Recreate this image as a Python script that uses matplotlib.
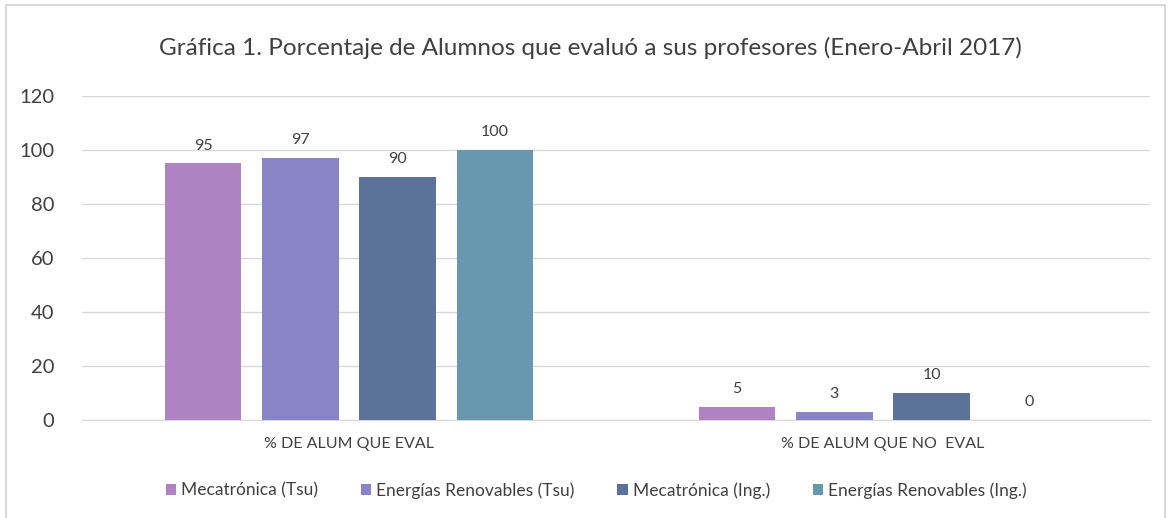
import matplotlib.pyplot as plt
import numpy as np
from matplotlib.patches import Rectangle

plt.rcParams['font.family'] = ['Lato', 'DejaVu Sans']

categories = ['% DE ALUM QUE EVAL', '% DE ALUM QUE NO  EVAL']
series = ['Mecatrónica (Tsu)', 'Energías Renovables (Tsu)',
          'Mecatrónica (Ing.)', 'Energías Renovables (Ing.)']
values = [[95, 5], [97, 3], [90, 10], [100, 0]]
colors = ['#AF82C4', '#8884C6', '#5D7299', '#6798B0']

fig = plt.figure(figsize=(11.69, 5.18), dpi=100)
ax = fig.add_axes([0.0701, 0.189, 0.9136, 0.626])

x = np.arange(len(categories))
width = 0.143
step = 0.182
for i, (name, vals) in enumerate(zip(series, values)):
    pos = x + (i - 1.5) * step
    bars = ax.bar(pos, vals, width, color=colors[i], label=name, zorder=3)
    for b, v in zip(bars, vals):
        ax.text(b.get_x() + b.get_width() / 2, v + 4, str(v),
                ha='center', va='bottom', fontsize=11.5, color='#404040')

ax.set_xlim(-0.5, 1.5)
ax.set_ylim(0, 120)
ax.set_yticks(np.arange(0, 121, 20))
ax.set_xticks(x)
ax.set_xticklabels(categories, fontsize=11.5, color='#404040')
ax.tick_params(axis='y', labelsize=14.5, colors='#404040', length=0, pad=20)
ax.tick_params(axis='x', length=0, pad=12)
ax.grid(axis='y', color='#D9D9D9', linewidth=1, zorder=0)
for s in ['top', 'right', 'left']:
    ax.spines[s].set_visible(False)
ax.spines['bottom'].set_color('#D9D9D9')

fig.text(0.505, 0.907, 'Gráfica 1. Porcentaje de Alumnos que evaluó a sus profesores (Enero-Abril 2017)',
         ha='center', va='center', fontsize=17.5, color='#404040')

fig.legend(loc='center', bbox_to_anchor=(0.51, 0.053), ncol=4, frameon=False,
           fontsize=12.5, handlelength=0.6, handleheight=0.6, handletextpad=0.3,
           columnspacing=2.45, labelcolor='#404040')

fig.patches.append(Rectangle((0.005, -0.01), 0.992, 1.0, transform=fig.transFigure,
                             fill=False, edgecolor='#D9D9D9', linewidth=1.5))

fig.savefig('out.png', dpi=100)
